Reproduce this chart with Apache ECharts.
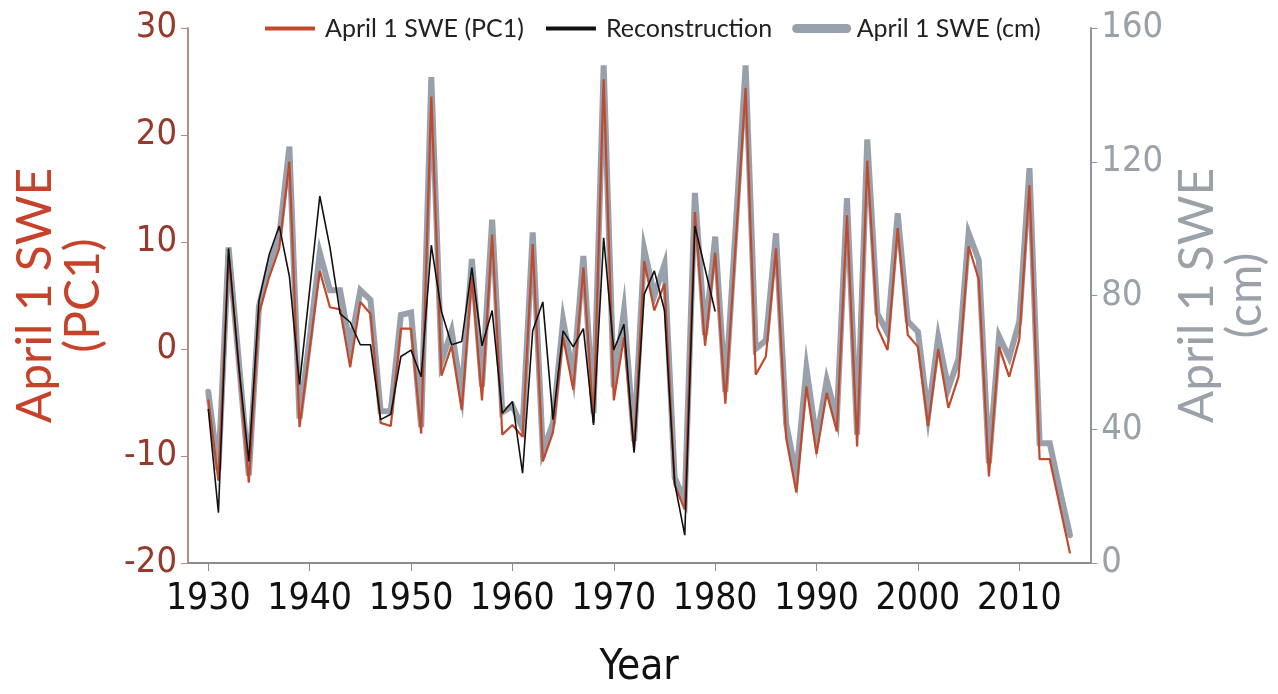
<!DOCTYPE html>
<html>
<head>
<meta charset="utf-8">
<script src="https://cdn.jsdelivr.net/npm/echarts@6/dist/echarts.min.js"></script>
<style>
  html, body { margin: 0; padding: 0; background: #fff; }
  #chart { width: 1278px; height: 694px; }
</style>
</head>
<body>
<div id="chart"></div>
<script>
// April 1 snow water equivalent, 1930-2015
const firstYear = 1930;

// Principal component (PC1) index, one value per year from 1930
const swePC1 = [
  -4.7, -12.3, 8.8, -1.5, -12.5, 3.3, 6.7, 9.4, 17.5, -7.3,
  0.0, 7.3, 3.9, 3.7, -1.7, 4.4, 3.3, -6.9, -7.2, 1.9,
  1.9, -7.9, 23.6, -2.5, 0.3, -5.7, 6.7, -4.8, 10.7, -8.0,
  -7.1, -8.2, 9.8, -10.5, -7.8, 1.1, -3.8, 7.6, -6.9, 25.2,
  -4.8, 1.1, -9.4, 8.2, 3.6, 6.1, -12.7, -15.0, 12.8, 0.3,
  9.0, -5.1, 9.5, 24.4, -2.4, -0.7, 9.4, -8.3, -13.4, -3.5,
  -9.8, -4.1, -7.7, 12.5, -9.1, 17.6, 2.0, -0.1, 11.3, 1.3,
  0.2, -7.2, 0.0, -5.5, -2.6, 9.6, 6.5, -11.9, 0.2, -2.6,
  0.9, 15.3, -10.3, -10.3, -14.7, -19.1
];

// Tree-ring reconstruction of the PC1 index, 1930-1980
const reconstruction = [
  -5.6, -15.3, 9.4, -1.5, -10.5, 4.5, 8.8, 11.5, 6.8, -3.3,
  5.5, 14.3, 9.5, 3.3, 2.5, 0.4, 0.4, -6.6, -6.1, -0.7,
  -0.1, -2.6, 9.7, 3.5, 0.4, 0.7, 7.6, 0.3, 3.6, -6.0,
  -4.9, -11.6, 1.7, 4.4, -6.6, 1.7, 0.2, 1.9, -7.1, 10.4,
  -0.1, 2.3, -9.7, 5.1, 7.3, 3.6, -12.5, -17.4, 11.5, 7.5,
  3.5
];

// Measured April 1 SWE in cm, one value per year from 1930
const sweCm = [
  51.2, 27.8, 94.4, 60.8, 26.2, 76.8, 89.0, 97.6, 124.5, 43.2,
  67.2, 92.8, 81.6, 81.6, 65.0, 81.6, 78.7, 45.4, 45.4, 74.2,
  74.9, 40.6, 145.3, 60.2, 69.4, 50.6, 90.9, 52.8, 102.7, 45.1,
  47.0, 40.3, 98.9, 33.3, 41.9, 72.6, 55.7, 91.8, 44.8, 148.8,
  52.5, 75.5, 36.5, 93.8, 80.0, 89.3, 25.6, 18.6, 110.7, 68.2,
  97.6, 51.2, 99.2, 148.8, 64.0, 66.6, 98.6, 41.6, 26.2, 58.2,
  36.8, 54.7, 43.2, 109.1, 38.4, 126.7, 74.6, 68.8, 104.6, 72.3,
  69.1, 44.2, 67.5, 52.2, 61.1, 98.6, 90.6, 29.8, 67.8, 61.4,
  72.3, 118.1, 35.8, 35.8, 21.8, 8.3
];

const yearTicks = [1930, 1940, 1950, 1960, 1970, 1980, 1990, 2000, 2010];

const seriesNames = ['April 1 SWE (PC1)', 'Reconstruction', 'April 1 SWE (cm)'];

const pairs = (values) => values.map((v, i) => [firstYear + i, v]);

const narrow = "'Liberation Sans Narrow', 'DejaVu Sans Condensed', Lato, sans-serif";
const wide = "Lato, 'Open Sans', sans-serif";

const red = '#bf4a2e';
const grey = '#98a1ab';
const black = '#111111';

const chart = echarts.init(document.getElementById('chart'), null, { renderer: 'canvas' });

chart.setOption({
  backgroundColor: '#ffffff',
  animation: false,
  grid: { left: 188, right: 176, top: 28, bottom: 126 },
  legend: {
    data: [
      { name: seriesNames[0], lineStyle: { color: red, width: 4 } },
      { name: seriesNames[1], lineStyle: { color: black, width: 4 } },
      { name: seriesNames[2], lineStyle: { color: grey, width: 9, cap: 'round' } }
    ],
    left: 263,
    top: 16,
    itemWidth: 50,
    itemHeight: 14,
    itemGap: 20,
    padding: 0,
    // line-only legend keys (no marker dot)
    itemStyle: { opacity: 0 },
    textStyle: { fontFamily: wide, fontSize: 25, color: '#222', padding: [0, 0, 0, 5] }
  },
  xAxis: {
    type: 'value',
    min: 1928,
    max: 2017,
    name: 'Year',
    nameLocation: 'middle',
    nameGap: 84,
    nameTextStyle: { fontFamily: narrow, fontSize: 42, color: '#111' },
    axisLine: { show: true, onZero: false, lineStyle: { color: '#8c8c8c', width: 2 } },
    axisTick: { show: true, length: 8, customValues: yearTicks, lineStyle: { color: '#8c8c8c', width: 1 } },
    axisLabel: {
      customValues: yearTicks,
      margin: 18,
      fontFamily: narrow, fontSize: 37, color: '#111',
      formatter: (v) => String(v)
    },
    splitLine: { show: false }
  },
  yAxis: [
    {
      type: 'value',
      position: 'left',
      min: -20,
      max: 30,
      interval: 10,
      name: 'April 1 SWE\n(PC1)',
      nameLocation: 'middle',
      nameRotate: 90,
      nameGap: 80,
      nameTextStyle: { fontFamily: wide, fontSize: 48, color: '#c7422a', lineHeight: 48 },
      axisLine: { show: true, lineStyle: { color: '#b98b87', width: 2 } },
      axisTick: { show: true, length: 7, lineStyle: { color: '#b98b87', width: 1 } },
      axisLabel: { margin: 11, fontFamily: narrow, fontSize: 36, color: '#963a2c' },
      splitLine: { show: false }
    },
    {
      type: 'value',
      position: 'right',
      min: 0,
      max: 160,
      interval: 40,
      name: 'April 1 SWE\n(cm)',
      nameLocation: 'middle',
      nameRotate: 90,
      nameGap: 78,
      nameTextStyle: { fontFamily: wide, fontSize: 48, color: '#9aa1a9', lineHeight: 48 },
      axisLine: { show: true, lineStyle: { color: '#8f969e', width: 2 } },
      axisTick: { show: true, length: 7, lineStyle: { color: '#8f969e', width: 1 } },
      axisLabel: { margin: 11, fontFamily: narrow, fontSize: 36, color: '#9aa1a9' },
      splitLine: { show: false }
    }
  ],
  series: [
    {
      name: seriesNames[2],
      type: 'line',
      yAxisIndex: 1,
      data: pairs(sweCm),
      symbol: 'none',
      z: 2,
      lineStyle: { color: grey, width: 6, cap: 'round', join: 'miter' },
      itemStyle: { color: grey }
    },
    {
      name: seriesNames[0],
      type: 'line',
      yAxisIndex: 0,
      data: pairs(swePC1),
      symbol: 'none',
      z: 3,
      lineStyle: { color: red, width: 2.2 },
      itemStyle: { color: red }
    },
    {
      name: seriesNames[1],
      type: 'line',
      yAxisIndex: 0,
      data: pairs(reconstruction),
      symbol: 'none',
      z: 4,
      lineStyle: { color: black, width: 1.6 },
      itemStyle: { color: black }
    }
  ]
});
</script>
</body>
</html>
